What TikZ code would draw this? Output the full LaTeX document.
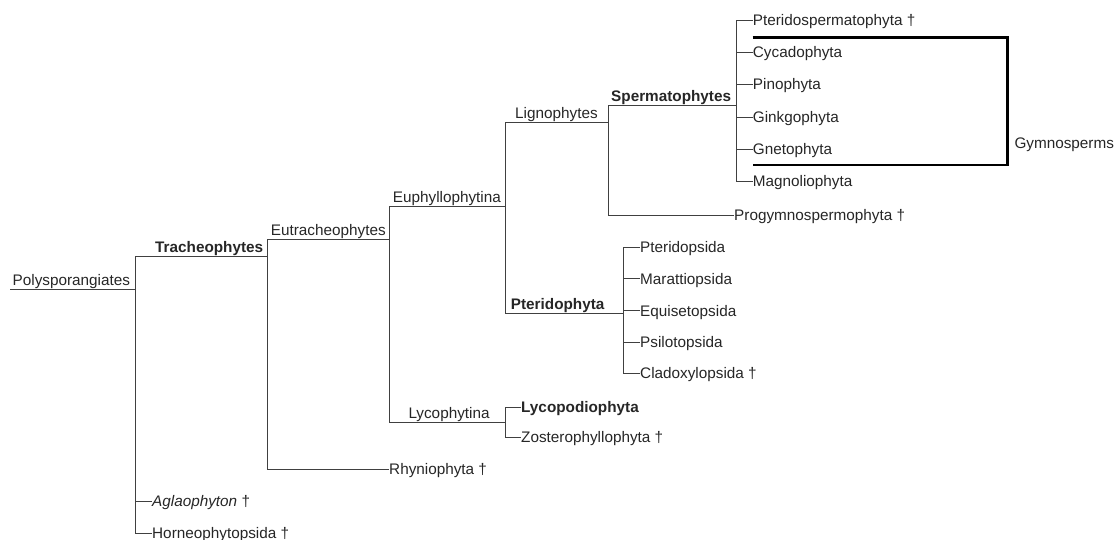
\documentclass[tikz,border=0pt]{standalone}
\usepackage{fontspec}
\setmainfont{Liberation Sans}
\begin{document}
\begin{tikzpicture}[x=1pt,y=-1pt,
  br/.style={draw=black!75, line width=0.9pt},
  gym/.style={draw=black, line width=2.6pt},
  lab/.style={anchor=base west, inner sep=0pt, text=black!85, font=\fontsize{15.3}{18}\selectfont},
  leaf/.style={anchor=west, inner sep=0pt, text height=11pt, text depth=0pt, text=black!85, font=\fontsize{15.3}{18}\selectfont},
  boldlab/.style={font=\fontsize{15.3}{18}\selectfont\bfseries}]
\useasboundingbox (0,0) rectangle (1119,540);

% junctions
\coordinate (root) at (10,289.3);
\coordinate (poly) at (135,289.3);
\coordinate (trach) at (267.3,256);
\coordinate (eutr) at (389.3,239.3);
\coordinate (euph) at (505.3,206.7);
\coordinate (lign) at (608.3,122.3);
\coordinate (sperm) at (736.5,105.5);
\coordinate (pterph) at (623.3,313.5);
\coordinate (lycoph) at (505,422.3);

% clade labels
\node[lab] (lpoly) at (12.5,285.5) {Polysporangiates};
\node[lab,boldlab] (ltrach) at (155,252) {Tracheophytes};
\node[lab] (leutr) at (270.7,235.5) {Eutracheophytes};
\node[lab] (leuph) at (392.7,202.7) {Euphyllophytina};
\node[lab] (llign) at (515,118.3) {Lignophytes};
\node[lab,boldlab] (lsperm) at (611,101.8) {Spermatophytes};
\node[lab,boldlab] (lpterph) at (510.7,309.5) {Pteridophyta};
\node[lab] (llycoph) at (408.3,418.3) {Lycophytina};

% leaves
\node[leaf] (pterido) at (752.7,20) {Pteridospermatophyta †};
\node[leaf] (cycad) at (752.7,52.3) {Cycadophyta};
\node[leaf] (pino) at (752.7,84.3) {Pinophyta};
\node[leaf] (ginkgo) at (752.7,117) {Ginkgophyta};
\node[leaf] (gneto) at (752.7,149.5) {Gnetophyta};
\node[leaf] (magno) at (752.7,181.5) {Magnoliophyta};
\node[leaf] (progym) at (734,215) {Progymnospermophyta †};
\node[leaf] (pteridop) at (640,247) {Pteridopsida};
\node[leaf] (maratt) at (640,278.5) {Marattiopsida};
\node[leaf] (equis) at (640,310.5) {Equisetopsida};
\node[leaf] (psilo) at (640,342) {Psilotopsida};
\node[leaf] (clado) at (640,373) {Cladoxylopsida †};
\node[leaf,boldlab] (lycopod) at (521,407.3) {Lycopodiophyta};
\node[leaf] (zoster) at (521,437.3) {Zosterophyllophyta †};
\node[leaf] (rhyn) at (389,469.3) {Rhyniophyta †};
\node[leaf] (agla) at (152,501) {\textit{Aglaophyton} †};
\node[leaf] (horn) at (152,533) {Horneophytopsida †};

% connectors
\draw[br] (root) -- (poly);
\draw[br] (poly) |- (trach);
\draw[br] (poly) |- (agla.west);
\draw[br] (poly) |- (horn.west);
\draw[br] (trach) |- (eutr);
\draw[br] (trach) |- (rhyn.west);
\draw[br] (eutr) |- (euph);
\draw[br] (eutr) |- (lycoph);
\draw[br] (euph) |- (lign);
\draw[br] (euph) |- (pterph);
\draw[br] (lign) |- (sperm);
\draw[br] (lign) |- (progym.west);
\foreach \n in {pterido,cycad,pino,ginkgo,gneto,magno}
  \draw[br] (sperm) |- (\n.west);
\foreach \n in {pteridop,maratt,equis,psilo,clado}
  \draw[br] (pterph) |- (\n.west);
\draw[br] (lycoph) |- (lycopod.west);
\draw[br] (lycoph) |- (zoster.west);

% gymnosperm bracket
\coordinate (gtl) at (752.7,37.3);
\coordinate (gtr) at (1007.3,37.3);
\coordinate (gbr) at (1007.3,165);
\coordinate (gbl) at (752.7,165);
\draw[gym] (gtl) -- (gtr) -- (gbr) -- (gbl);
\node[leaf] (gymlab) at (1014.3,143) {Gymnosperms};
\end{tikzpicture}
\end{document}
